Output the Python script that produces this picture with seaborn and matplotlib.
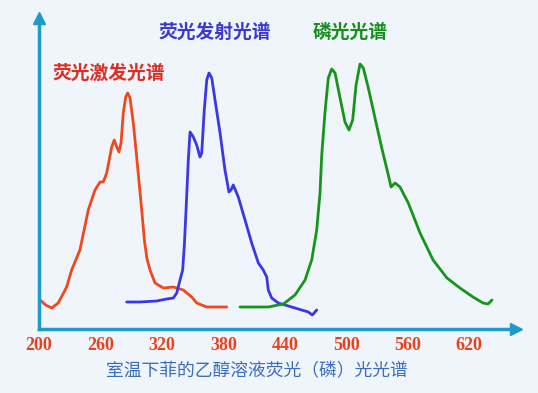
import matplotlib
matplotlib.use('Agg')
import matplotlib.pyplot as plt
import seaborn as sns

sns.set_style('white')
plt.rcParams['font.family'] = ['Noto Sans CJK SC', 'DejaVu Sans']

# wavelength (nm) and relative intensity
ex_wl = [200, 206.5, 212.4, 218.8, 227, 231.9, 240, 248.1, 254.7, 259.6, 262.8, 266.1, 271, 273.5,
         275.9, 278.1, 280.1, 282.3, 284.7, 286.6, 288.9, 292.1, 295.4, 300.3, 303, 305.5, 308.4,
         313.3, 321.4, 331.2, 340.9, 349.1, 354, 363.8, 383.3]
ex_int = [30, 24, 21, 26, 42, 59, 79, 119, 139, 147, 147, 156, 182, 189,
          182, 177, 186, 216, 232, 236, 231, 206, 172, 119, 88, 70, 59,
          46, 41, 42, 39, 32, 26, 22, 22]

em_wl = [285.6, 298.6, 314.9, 324.7, 331.2, 334.5, 337.7, 340.3, 342, 343.6, 345.8, 347.5, 350.7,
         354, 357.2, 358.9, 361.4, 363.8, 366, 368.7, 371.9, 376.8, 381.6, 385.5, 387.5, 389.7,
         394.6, 401.2, 407.7, 414.2, 419, 422.4, 423.9, 427.2, 433.7, 440.2, 450, 463, 466.9, 471.2]
em_int = [27, 27, 28, 30, 31, 36, 49, 59, 85, 119, 169, 197, 192,
          184, 172, 176, 219, 249, 256, 251, 229, 196, 159, 137, 139, 144,
          132, 109, 86, 66, 59, 52, 39, 31, 26, 24, 21, 17, 14, 19]

ph_wl = [396.3, 423.9, 438.6, 450, 459.8, 466.3, 471.2, 474.4, 476.1, 479.3, 482.5, 485.8, 489.1,
         494, 498.8, 502.7, 506.3, 509.6, 513.5, 516.7, 521.6, 528.1, 534.7, 541.1, 543.8, 547.7,
         552.5, 560.6, 572.1, 584.8, 598.4, 611.1, 623.8, 633.6, 638.5, 642.4]
ph_int = [22, 22, 25, 34, 49, 69, 99, 136, 174, 217, 251, 260, 256,
          231, 207, 199, 209, 244, 265, 261, 241, 211, 181, 154, 142, 146,
          142, 126, 96, 69, 51, 41, 32, 26, 25, 29]

ticks = [200, 260, 320, 380, 440, 500, 560, 620]

bg = '#eff5fb'
axis_c = '#1e9bc8'

fig = plt.figure(figsize=(5.38, 3.93), dpi=100, facecolor=bg)
ax = fig.add_axes([39 / 538, 64 / 393, 477 / 538, 311 / 393], facecolor=bg)

line_kw = dict(lw=2, solid_joinstyle='round', solid_capstyle='round', ax=ax)
sns.lineplot(x=ex_wl, y=ex_int, color='#f0481c', **line_kw)
sns.lineplot(x=em_wl, y=em_int, color='#3838e6', **line_kw)
sns.lineplot(x=ph_wl, y=ph_int, color='#17951a', **line_kw)

ax.set_xlim(200, 665.8)
ax.set_ylim(0, 311)

for s in ['top', 'right']:
    ax.spines[s].set_visible(False)
for s in ['left', 'bottom']:
    ax.spines[s].set_color(axis_c)
    ax.spines[s].set_linewidth(2.5)
ax.plot(1, 0, '>', color=axis_c, ms=9, transform=ax.transAxes, clip_on=False)
ax.plot(0, 1, '^', color=axis_c, ms=9, transform=ax.transAxes, clip_on=False)

ax.set_xticks(ticks)
ax.set_xticklabels([str(t) for t in ticks], family='Liberation Serif', weight='bold',
                   color='#e5431e', fontsize=13)
ax.tick_params(axis='x', direction='in', length=10, width=2, color=axis_c, pad=6)
ax.set_yticks([])

ax.text(212.7, 256, '荧光激发光谱', color='#dc2e24', fontsize=13.5, weight='bold', va='center')
ax.text(316.2, 297, '荧光发射光谱', color='#3a3ad2', fontsize=13.5, weight='bold', va='center')
ax.text(467.6, 297, '磷光光谱', color='#16901a', fontsize=13.5, weight='bold', va='center')

fig.text(257 / 538, 1 - 371 / 393, '室温下菲的乙醇溶液荧光（磷）光光谱', color='#3a6cc0',
         fontsize=12.8, ha='center', va='center')

fig.savefig('out.png', dpi=100, facecolor=bg)
